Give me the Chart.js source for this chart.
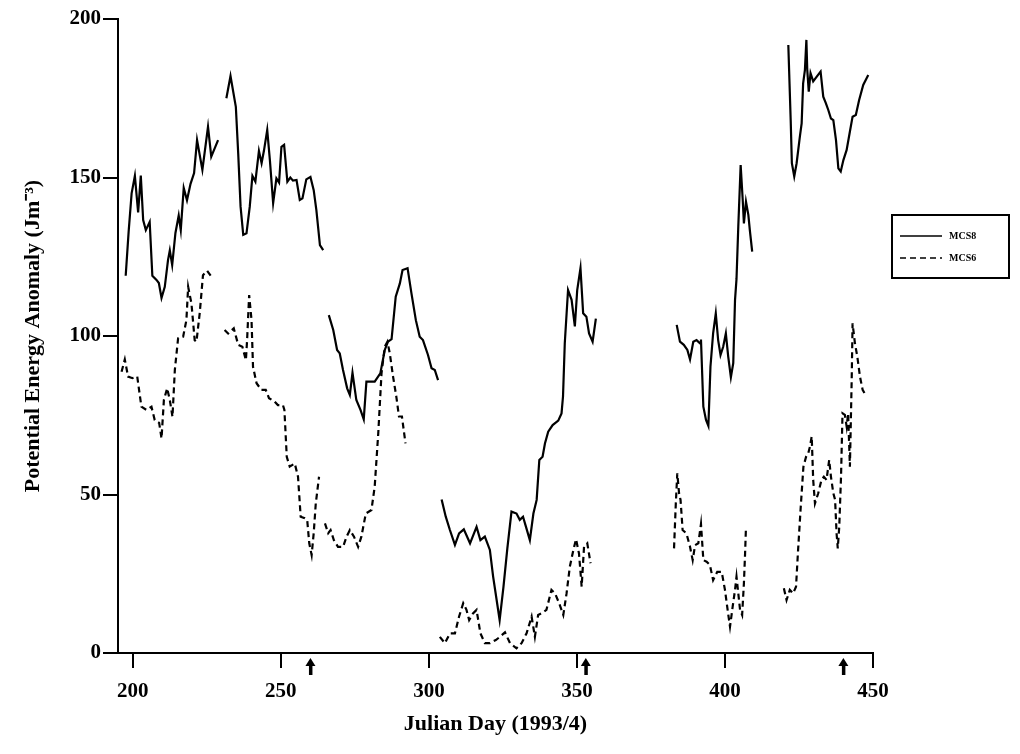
<!DOCTYPE html>
<html>
<head>
<meta charset="utf-8">
<title>Potential Energy Anomaly MCS8 / MCS6</title>
<script src="https://cdn.jsdelivr.net/npm/chart.js@4.4.1/dist/chart.umd.min.js"></script>
<style>
  html, body { margin: 0; padding: 0; background: #fff; }
</style>
</head>
<body>
<canvas id="pea" width="1020" height="754"></canvas>
<script>
// values, null = gap in the record
var mcs8Days = [
  197.6,198.6,199.6,200.7,201.8,202.7,203.5,204.4,205.7,206.6,208,208.8,209.7,210.8,211.9,212.5,213.3,214.4,215.5,216.2,217.2,218.3,219.5,220.7,221.7,223.5,225.4,226.5,228.8,
  230,
  231.6,233,234.8,235.6,236.4,237.3,238.4,239.5,240.4,241.4,242.6,243.5,244.3,245.4,246.3,247.4,248.5,249.4,250.2,251.1,252.2,253.2,254.1,255.3,256.4,257.3,258.6,260,261.1,262,263.2,264.3,
  265.2,
  266.2,267.7,269,269.9,271,272.4,273.3,274.2,275.5,276.9,278,278.9,280,281.7,283.6,285.1,286.2,287.4,288.8,290.2,291.1,292.8,294.1,295.6,296.9,298,299.7,300.9,302,303.1,
  303.7,
  304.3,305.7,307.1,308.8,310.2,311.8,313.9,316.1,317.4,318.9,320.6,321.7,323.9,325.2,326.5,327.9,329.6,330.7,331.8,332.8,334.1,335.3,336.4,337.3,338.4,339.2,340.3,341.8,343.7,344.8,345.3,345.9,347,348.2,349.3,350.1,351.2,352.1,353.2,354.1,355.3,356.4,
  370,
  383.7,384.8,386.1,387.3,388.2,389.3,390.4,391.6,391.9,392.7,393.6,394.4,395.1,396,396.9,397.7,398.5,399.4,400.3,401.1,402,402.8,403.4,403.9,404.5,405.3,406,406.4,407.1,407.9,408.4,409.2,
  415,
  421.4,422.2,422.6,423.4,424.2,425.3,425.9,426.4,427,427.5,427.8,428.3,428.9,429.8,431,432.3,433.2,434.1,434.9,435.8,436.6,437.5,438.3,439.1,440,441.1,442.2,443.1,444.2,445.3,446.7,448.4
];
var mcs8Values = [
  119,133,145,150.5,139,150.6,136.6,133.4,136,119,117.7,116.7,112,115.5,124,127,122.4,132.5,138,133.4,146.7,142.8,148,151.4,161.8,152.4,166,156.6,161.8,
  null,
  175,182,172.3,157.6,140.8,131.9,132.4,140.8,150.5,148.7,158.4,154.5,158.5,165,155.5,141.9,149.7,148.4,159.7,160.3,148.7,150,149,149.2,142.9,143.4,149.4,150.2,146,139.7,128.7,127.1,
  null,
  106.6,101.9,95.6,94.5,89.3,83.5,81.4,88.4,79.8,76.7,73.7,85.6,85.6,85.6,88.2,95.6,98.2,99,112.4,116.6,120.8,121.4,113.5,105,99.8,98.7,94,89.8,89.3,86.1,
  null,
  48.4,43,38.8,34.1,37.7,39,34.6,39.8,35.6,36.7,32.5,24.1,10.4,20.9,33,44.6,44,42,43,39.8,35.6,44,48.3,60.9,61.9,66.1,69.8,71.9,73.3,75.6,80.9,97.7,114.5,111.4,103,114.5,121.4,107.2,106.1,100.8,98.2,105.5,
  null,
  103.5,98.2,97.2,95.6,92.6,98.2,98.7,97.7,98.9,77.7,73.5,71.6,90.3,100.8,107.1,98.7,94,96.6,100.8,93.5,87,91.4,111.4,118,134.5,153.9,142.9,135.5,142.4,138.2,133.4,126.6,
  null,
  191.8,168.1,154.5,150.3,154.5,162.9,167.1,179.7,183.9,193.4,183.9,177.1,182.9,180.3,181.8,183.4,175.5,173.4,171.3,168.6,168.1,161.8,152.9,151.9,155.5,158.7,164.5,169.2,169.7,174.4,179.2,182.3
];

var mcs6Days = [
  196.2,197.3,198.4,199.9,201.5,202.9,204.6,206.3,207.4,208.9,209.7,210.5,211.6,212.5,213.4,214.2,215.3,217,218.1,218.7,219.8,220.9,221.5,222.6,223.7,225.1,226.9,
  228.7,
  231,232.2,234.1,235.6,237,238.2,238.6,239.3,240.1,240.6,241.8,243.4,244.9,246,247.9,249,250.7,251.2,252,253,254.7,255.8,256.7,258.1,258.9,259.6,260.4,261.1,261.8,262.9,
  264,
  264.9,266,266.8,267.9,269.3,271,272.2,273.3,274.7,276.1,277.2,278.7,280.6,281.7,282.9,284,285.1,286,286.8,287.9,289,289.9,290.9,292.1,
  298,
  303.7,305.4,307.1,308.8,310.2,311.6,312.7,313.6,314.9,316.1,317.4,318.9,320.6,322.6,324,325.7,327.4,329.6,331.3,333,334.7,335.8,336.9,338,339.7,341.4,342.6,344,345.4,346.5,347.6,348.8,349.7,350.7,351.6,352.4,353.5,354.6,
  370,
  382.8,383.4,383.9,384.5,385,385.7,387,388.2,389.1,389.9,391,391.9,392.7,393.8,394.9,396,397.4,398.9,400,400.9,401.7,402.6,403.4,403.9,404.5,405.1,405.8,406.4,406.8,407.1,
  414,
  419.9,420.8,421.9,423,424,424.7,425.6,426.5,427.4,428.1,428.7,429.3,429.8,430.4,431.5,432.6,433.4,434.3,435.2,435.8,436.6,437.2,437.7,438.1,438.6,439.2,439.7,440.5,441.1,441.6,442.2,442.8,443.1,443.9,444.7,445.6,446.5,447.8
];
var mcs6Values = [
  88.7,92.6,87.2,86.7,87.2,77.7,76.7,77.7,73.5,72.6,67.7,79.8,83.5,79.8,74.5,89.3,99.3,99.8,105,115.5,110.3,98.7,98.2,107.2,119.2,120.6,118.2,
  null,
  101.9,100.8,102.4,97.2,96.6,92.4,98.7,112.9,105,90.3,85.1,83,83,80.4,79.3,78.2,78.2,76.7,61.9,58.8,59.8,55.6,43,42.5,42,34.6,30.9,37.8,47.2,55.6,
  null,
  40.9,37.8,38.8,35.6,33.5,33.5,36.7,38.8,36.7,33.5,36.7,44,45.1,52.5,69.3,88.2,96.6,98.2,94.5,87.2,80.9,74.6,74.6,66.1,
  null,
  5.1,3.1,6.2,6.2,11.5,15.7,13.6,10.4,12.5,13.6,6.2,3.1,3.1,4.1,5.1,6.5,3.1,1.5,3.1,6.2,11.5,5.1,12,12.5,13.6,19.9,18.8,15.7,12,18.8,27.2,32.5,35.9,31.4,20.9,33.5,34.6,28.3,
  null,
  33,47.2,56.7,50.4,48.3,38.8,37.7,33.5,29.3,34,34.6,40.7,29.3,28.8,27.8,23,25.6,25.6,19.9,13.6,8.3,14.6,19.9,24.1,18.8,13.6,12,22,31.5,39.8,
  null,
  20.4,16.7,19.9,18.8,20.9,32.5,46.2,58.8,61.9,62.9,65.1,68.3,54.6,47.2,50.4,54.6,55.6,54.6,60.9,55.6,50.4,48.3,37.7,33,39.8,55.6,75.6,75.1,71.4,75.6,58.8,86.1,104,97.7,93.5,87.2,83,80.9
];

var xTicks = [200, 250, 300, 350, 400, 450];
var yTicks = [0, 50, 100, 150, 200];
var arrowDays = [260, 353, 440];   // event markers under the day axis
var seriesNames = ['MCS8', 'MCS6'];

var serif = '"Liberation Serif", "Times New Roman", serif';

function toPoints(days, vals) {
    return days.map(function(d, i) { return { x: d, y: vals[i] }; });
}

// arrows below the axis
var arrowPlugin = {
    id: 'arrows',
    afterDraw: function(chart) {
        var ctx = chart.ctx;
        var xs = chart.scales.x;
        var base = chart.chartArea.bottom;
        ctx.save();
        ctx.fillStyle = '#000';
        arrowDays.forEach(function(d) {
            var px = xs.getPixelForValue(d);
            ctx.beginPath();
            ctx.moveTo(px, base + 5);
            ctx.lineTo(px - 5, base + 13);
            ctx.lineTo(px + 5, base + 13);
            ctx.closePath();
            ctx.fill();
            ctx.fillRect(px - 1.5, base + 12, 3.5, 10);
        });
        ctx.restore();
    }
};

// boxed legend to the right of the plot
var boxLegend = {
    id: 'boxLegend',
    afterDraw: function(chart) {
        var ctx = chart.ctx;
        var left = chart.chartArea.right + 19;
        var top = 215;
        var w = 117, h = 63;
        ctx.save();
        ctx.strokeStyle = '#000';
        ctx.lineWidth = 2;
        ctx.strokeRect(left, top, w, h);
        chart.data.datasets.forEach(function(ds, i) {
            var y = top + 21 + i * 22;
            ctx.lineWidth = 1.5;
            ctx.setLineDash(ds.borderDash || []);
            ctx.beginPath();
            ctx.moveTo(left + 8, y);
            ctx.lineTo(left + 50, y);
            ctx.stroke();
            ctx.setLineDash([]);
            ctx.fillStyle = '#000';
            ctx.font = 'bold 10px ' + serif;
            ctx.textBaseline = 'middle';
            ctx.fillText(ds.label, left + 57, y);
        });
        ctx.restore();
    }
};

var ctx = document.getElementById('pea').getContext('2d');
var peaChart = new Chart(ctx, {
    type: 'line',
    data: {
        datasets: [{
            label: seriesNames[0],
            data: toPoints(mcs8Days, mcs8Values),
            borderColor: '#000',
            borderWidth: 2.2,
            pointRadius: 0,
            tension: 0,
            spanGaps: false
        }, {
            label: seriesNames[1],
            data: toPoints(mcs6Days, mcs6Values),
            borderColor: '#000',
            borderWidth: 2.2,
            borderDash: [6, 4],
            pointRadius: 0,
            tension: 0,
            spanGaps: false
        }]
    },
    options: {
        responsive: false,
        animation: false,
        layout: { padding: { top: 19, right: 147, left: 16, bottom: 12 } },
        plugins: {
            legend: { display: false },
            tooltip: { enabled: false }
        },
        scales: {
            x: {
                type: 'linear',
                min: 195,
                max: 450,
                afterBuildTicks: function(scale) {
                    scale.ticks = xTicks.map(function(v) { return { value: v }; });
                },
                afterFit: function(scale) { scale.height = 89; },
                grid: { drawOnChartArea: false, tickLength: 15, color: '#000', lineWidth: 2 },
                border: { color: '#000', width: 2 },
                ticks: {
                    color: '#000',
                    maxRotation: 0,
                    padding: 11,
                    font: { family: serif, size: 21, weight: 'bold' }
                },
                title: {
                    display: true,
                    text: 'Julian Day (1993/4)',
                    color: '#000',
                    font: { family: serif, size: 22, weight: 'bold' }
                }
            },
            y: {
                min: 0,
                max: 200,
                afterBuildTicks: function(scale) {
                    scale.ticks = yTicks.map(function(v) { return { value: v }; });
                },
                afterFit: function(scale) { scale.width = 102; },
                grid: { drawOnChartArea: false, tickLength: 15, color: '#000', lineWidth: 2 },
                border: { color: '#000', width: 2 },
                ticks: {
                    color: '#000',
                    padding: 2,
                    font: { family: serif, size: 21, weight: 'bold' }
                },
                title: {
                    display: true,
                    text: 'Potential Energy Anomaly (Jm⁻³)',
                    color: '#000',
                    font: { family: serif, size: 22, weight: 'bold' }
                }
            }
        }
    },
    plugins: [arrowPlugin, boxLegend]
});
</script>
</body>
</html>
